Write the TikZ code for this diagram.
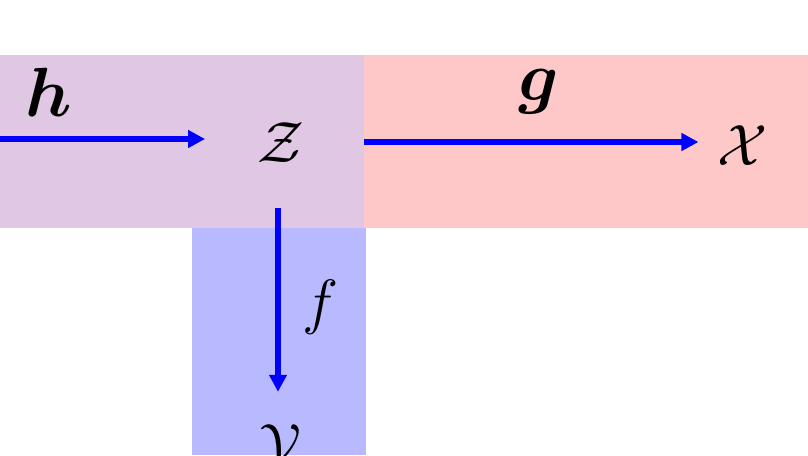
\documentclass[tikz,border=0pt]{standalone}
\usepackage{amsmath,amssymb,bm}
\usepackage{tikz}
\usepackage{xcolor}
\usetikzlibrary{arrows.meta,positioning}
\definecolor{zone}{RGB}{224,200,228}
\definecolor{xzone}{RGB}{255,200,200}
\definecolor{yzone}{RGB}{185,185,255}
\definecolor{maparrow}{RGB}{0,0,255}

\begin{document}
\begin{tikzpicture}[x=0.5pt,y=-0.5pt,
space/.style={inner sep=3pt,font=\Huge,scale=1.17},
lbl/.style={inner sep=0pt,font=\Huge,scale=1.4},
arrow/.style={-{Triangle[length=8.5pt,width=8.5pt]},line width=2.6pt,draw=maparrow}
]
\useasboundingbox (0,0) rectangle (808,455);
% shaded regions
\fill[zone] (0,55) rectangle (364,228);
\fill[xzone] (364,55) rectangle (808,228);
\fill[yzone] (192,228) rectangle (366,455);
% spaces
\node[space] (Z) at (281,143) {$\mathcal{Z}$};
\node[space] (X) at (743,146) {$\mathcal{X}$};
\node[space] (Y) at (279,447) {$\mathcal{Y}$};
\coordinate (hin) at (0,139);
% maps
\draw[arrow,shorten >=22.5pt] (hin) -- (hin -| Z.west);
\draw[arrow,shorten <=26pt,shorten >=6pt] (Z.east |- 0,142) -- (X.west |- 0,142);
\draw[arrow,shorten <=19pt,shorten >=12.5pt] (Z.south -| 278,0) -- (Y.north -| 278,0);
% labels
\node[lbl] (hlbl) at (49,92) {$\bm{h}$};
\node[lbl] (glbl) at (539,92) {$\bm{g}$};
\node[space,scale=1.05] (flbl) at (321,307) {$f$};
\end{tikzpicture}
\end{document}
